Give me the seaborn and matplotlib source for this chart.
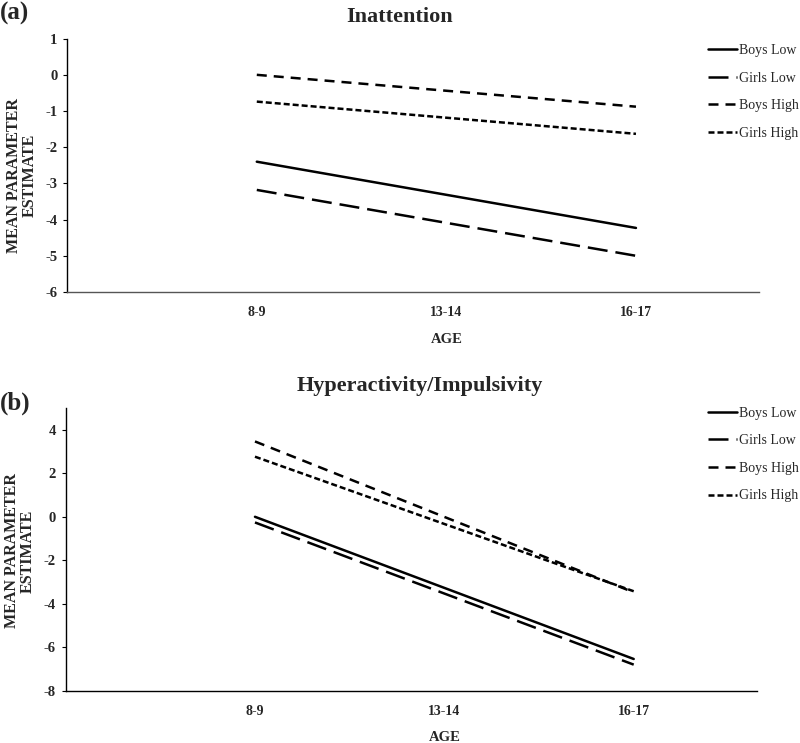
import pandas as pd
import matplotlib
matplotlib.use("Agg")
import matplotlib.pyplot as plt
import seaborn as sns

ages = ["8-9", "13-14", "16-17"]
groups = ["Boys Low", "Girls Low", "Boys High", "Girls High"]

# value at 8-9 and at 16-17 for each group (lines drawn straight between them)
inatt_start = [-2.40, -3.18, 0.00, -0.74]
inatt_end = [-4.23, -5.00, -0.88, -1.63]
hyper_start = [0.00, -0.26, 3.46, 2.76]
hyper_end = [-6.53, -6.79, -3.47, -3.42]

line_dashes = {
    "Boys Low": "",
    "Girls Low": (8, 3.2),
    "Boys High": (4, 2.8),
    "Girls High": (2.4, 1.2),
}

def make_df(start, end):
    rows = []
    for g, s, e in zip(groups, start, end):
        rows.append({"group": g, "pos": 0, "value": s})
        rows.append({"group": g, "pos": 2, "value": e})
    return pd.DataFrame(rows)

sns.set_style("white")
plt.rcParams["font.family"] = ["Liberation Serif", "DejaVu Serif"]

fig = plt.figure(figsize=(8, 7.43), dpi=100)
ax1 = fig.add_axes([0.084, 0.607, 0.865, 0.341])
ax2 = fig.add_axes([0.082, 0.070, 0.864, 0.381])

panels = [
    (ax1, make_df(inatt_start, inatt_end), "Inattention", (-6, 1), range(-6, 2), "(a)", 0.998, 0.950, 0.481, "#555555", 0.46),
    (ax2, make_df(hyper_start, hyper_end), "Hyperactivity/Impulsivity", (-8, 5), range(-8, 5, 2), "(b)", 0.473, 0.462, 0.512, "black", 0.495),
]

for ax, df, title, ylim, yticks, tag, tag_y, leg_y, title_x, bottom_col, ylab_y in panels:
    sns.lineplot(data=df, x="pos", y="value", style="group", style_order=groups,
                 dashes=line_dashes, color="black", linewidth=1.8, ax=ax)
    ax.set_xlim(-1, 2.65)
    ax.set_ylim(*ylim)
    ax.set_xticks([0, 1, 2])
    ax.set_xticklabels(ages, fontsize=10, fontweight="bold")
    ax.set_yticks(list(yticks))
    ax.set_yticklabels([str(v) for v in yticks], fontsize=10.5, fontweight="bold")
    ax.tick_params(axis="y", direction="out", length=3, width=0.8, color="black", pad=4, left=True)
    ax.tick_params(axis="x", length=0, pad=10)
    for side in ["top", "right"]:
        ax.spines[side].set_visible(False)
    ax.spines["left"].set_color("black")
    ax.spines["bottom"].set_color(bottom_col)
    for side in ["left", "bottom"]:
        ax.spines[side].set_linewidth(1.0)
    ax.set_xlabel("AGE", fontsize=10.5, fontweight="bold")
    ax.xaxis.set_label_coords(0.549, -0.16 if ax is ax1 else -0.14)
    ax.set_ylabel("MEAN PARAMETER\nESTIMATE", fontsize=11.5, fontweight="bold", linespacing=0.95,
                  va="center")
    ax.yaxis.set_label_coords(-0.066, ylab_y)
    ax.set_title(title, fontsize=16, fontweight="bold", pad=12, x=title_x)
    fig.text(0.0, tag_y, tag, fontsize=18, fontweight="bold", ha="left", va="top")
    handles, labels = ax.get_legend_handles_labels()
    ax.legend(handles, labels, loc="upper left", bbox_to_anchor=(0.876, leg_y),
              bbox_transform=fig.transFigure, frameon=False, fontsize=10,
              handlelength=2.1, handletextpad=0.15, labelspacing=1.05, borderpad=0)

fig.savefig("out.png", dpi=100)
